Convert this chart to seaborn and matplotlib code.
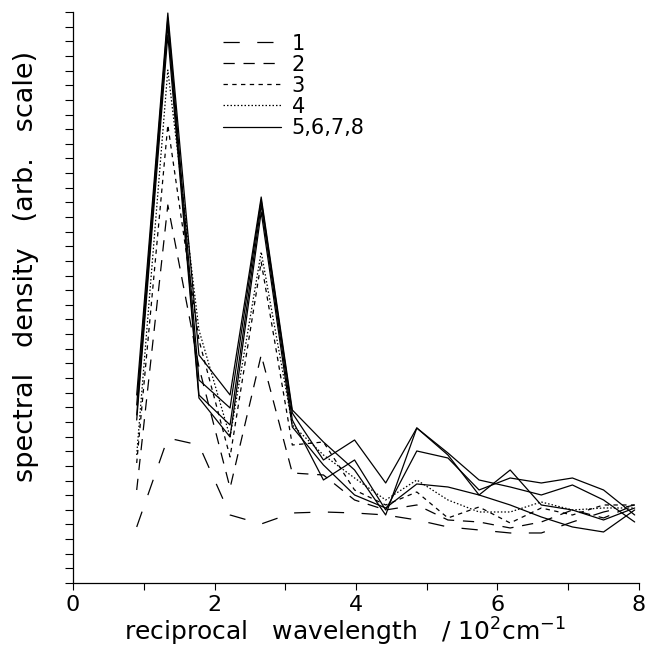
import numpy as np
import pandas as pd
import matplotlib
matplotlib.use("Agg")
import matplotlib.pyplot as plt
import seaborn as sns

# reciprocal wavelength sample points (10^2 cm^-1)
wavenum = [0.9, 1.34, 1.78, 2.22, 2.66, 3.1, 3.54, 3.98, 4.42,
           4.86, 5.3, 5.74, 6.18, 6.62, 7.06, 7.5, 7.94]

# spectral density, arbitrary scale
run1 = [56, 145, 138, 68, 59, 70, 71, 70, 68, 63, 56, 53, 50, 50, 61, 71, 78]
run2 = [93, 378, 216, 95, 228, 110, 108, 83, 73, 78, 63, 61, 55, 61, 73, 65, 78]
run3 = [120, 458, 243, 126, 321, 138, 141, 93, 78, 91, 65, 76, 60, 75, 68, 78, 78]
run4 = [128, 513, 253, 146, 331, 158, 128, 105, 83, 103, 83, 71, 71, 81, 73, 75, 75]
run5 = [188, 570, 228, 188, 386, 173, 141, 113, 68, 155, 128, 88, 113, 78, 73, 63, 75]
run6 = [178, 565, 203, 175, 383, 170, 123, 143, 100, 155, 130, 103, 96, 88, 98, 83, 61]
run7 = [168, 558, 188, 158, 378, 163, 103, 123, 73, 132, 125, 93, 105, 100, 105, 93, 68]
run8 = [163, 548, 185, 146, 371, 156, 118, 88, 75, 99, 96, 88, 78, 66, 56, 51, 73]

runs = {"1": run1, "2": run2, "3": run3, "4": run4,
        "5": run5, "6": run6, "7": run7, "8": run8}
group_of = {"1": "1", "2": "2", "3": "3", "4": "4",
            "5": "5,6,7,8", "6": "5,6,7,8", "7": "5,6,7,8", "8": "5,6,7,8"}
groups = ["1", "2", "3", "4", "5,6,7,8"]

rows = []
for r, vals in runs.items():
    for x, v in zip(wavenum, vals):
        rows.append({"x": x, "density": v, "run": r, "group": group_of[r]})
df = pd.DataFrame(rows)

sns.set_theme(style="ticks")
plt.rcParams["font.family"] = ["DejaVu Sans"]
plt.rcParams.update({"text.color": "black", "axes.labelcolor": "black",
                     "xtick.color": "black", "ytick.color": "black"})

fig = plt.figure(figsize=(6.58, 6.51), dpi=100)
ax = fig.add_axes([0.111, 0.1045, 0.86, 0.877])

dash_map = {"1": (13, 14), "2": (9, 7), "3": (3.5, 3.5), "4": (1.2, 1.6), "5,6,7,8": ""}

sns.lineplot(data=df, x="x", y="density", units="run", style="group",
             style_order=groups, dashes=dash_map, estimator=None,
             color="black", linewidth=0.9, ax=ax, legend=True)

ax.set_xlim(0, 8)
ax.set_ylim(0, 571)
ax.set_xticks([0, 2, 4, 6, 8])
ax.set_xticks([1, 3, 5, 7], minor=True)
ax.set_yticks(np.arange(0, 572, 14.64))
ax.set_yticklabels([])
ax.tick_params(axis="x", which="both", direction="out", length=5, width=0.8,
               labelsize=16, pad=4)
ax.tick_params(axis="y", direction="out", length=6, width=0.8)
sns.despine(ax=ax)
for s in ["left", "bottom"]:
    ax.spines[s].set_linewidth(0.9)
    ax.spines[s].set_color("black")

ax.set_xlabel(r"reciprocal   wavelength   / 10$^{2}$cm$^{-1}$", fontsize=18)
ax.xaxis.set_label_coords(0.48, -0.058)
ax.set_ylabel("spectral   density   (arb.   scale)", fontsize=19.5)
ax.yaxis.set_label_coords(-0.06, 0.555)

handles, labels = ax.get_legend_handles_labels()
keep = [(h, l) for h, l in zip(handles, labels) if l in groups]
leg = ax.legend([h for h, _ in keep], [l for _, l in keep], loc="upper left",
                bbox_to_anchor=(0.232, 0.995), frameon=False, fontsize=15,
                handlelength=2.8, labelspacing=0.05, handletextpad=0.5)
for line in leg.get_lines():
    line.set_linewidth(0.9)

fig.savefig("out.png", dpi=100)
